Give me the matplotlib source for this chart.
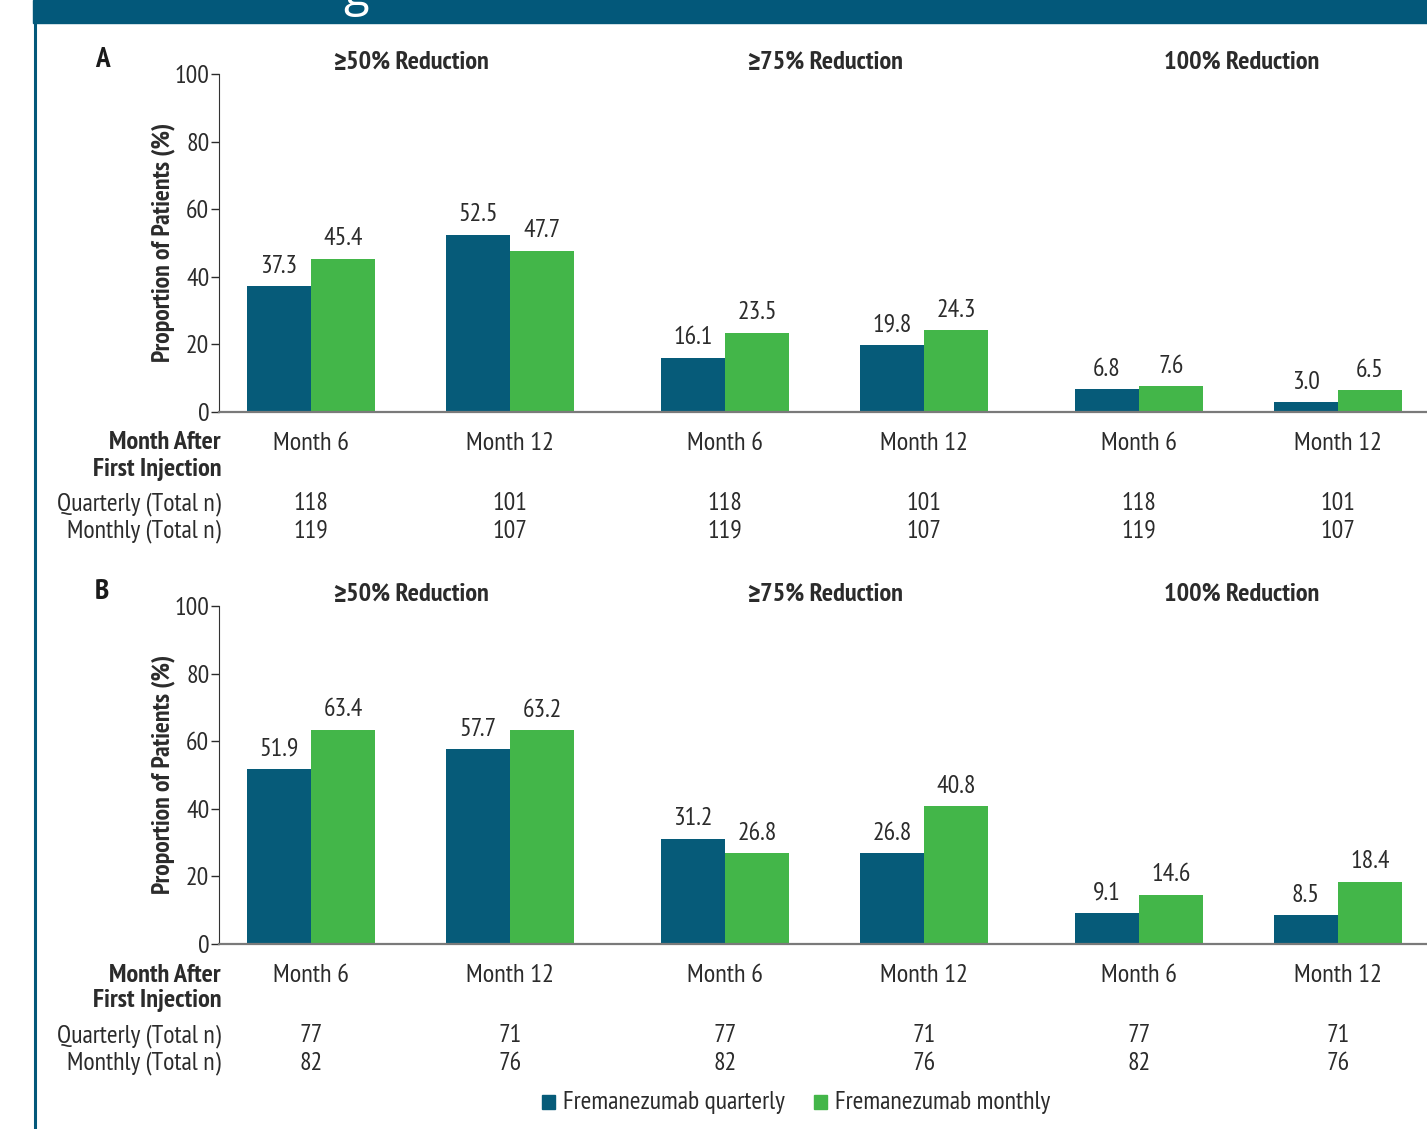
import matplotlib
matplotlib.use("Agg")
import matplotlib.pyplot as plt
from matplotlib.patches import Rectangle
from matplotlib.lines import Line2D

plt.rcParams['font.family'] = ['PT Sans Narrow', 'Roboto Condensed', 'Fira Sans Condensed',
                               'Asap Condensed', 'DejaVu Sans']
SYMBOL_FONT = ['Fira Sans Condensed', 'Roboto Condensed', 'DejaVu Sans']

# ---- data ----
months = ["Month 6", "Month 12", "Month 6", "Month 12", "Month 6", "Month 12"]
section_signs = ["\u2265", "\u2265", ""]
sections = ["50% Reduction", "75% Reduction", "100% Reduction"]

a_quarterly = [37.3, 52.5, 16.1, 19.8, 6.8, 3.0]
a_monthly = [45.4, 47.7, 23.5, 24.3, 7.6, 6.5]
a_n_quarterly = [118, 101, 118, 101, 118, 101]
a_n_monthly = [119, 107, 119, 107, 119, 107]

b_quarterly = [51.9, 57.7, 31.2, 26.8, 9.1, 8.5]
b_monthly = [63.4, 63.2, 26.8, 40.8, 14.6, 18.4]
b_n_quarterly = [77, 71, 77, 71, 77, 71]
b_n_monthly = [82, 76, 82, 76, 82, 76]

series_names = ["Fremanezumab quarterly", "Fremanezumab monthly"]

TEAL = "#065b79"
GREEN = "#43b649"
BANNER = "#03587a"
TXT = "#2b2b2b"
FS = 18.5

W, H = 1427, 1129
fig = plt.figure(figsize=(W / 100, H / 100), dpi=100)

def fx(px):
    return px / W

def fy(py):
    return 1 - py / H

# header strip and left rule
fig.patches.append(Rectangle((fx(33), fy(23)), 1, 23 / H, transform=fig.transFigure,
                             color=BANNER, zorder=0))
fig.add_artist(Line2D([fx(34.5), fx(34.5)], [0, 1], transform=fig.transFigure,
                      color=BANNER, lw=2.2))
fig.text(fx(343), fy(6), "g", color="white", fontsize=34, ha="left", va="baseline",
         family=["Open Sans", "DejaVu Sans"])

# group centres: 1 unit = gap between months, sections spaced a bit wider
pos = [0, 1, 2.08, 3.08, 4.16, 5.16]
bw = 0.3216
xlim = (-0.462, 5.608)
px_unit = (1427 - 219) / (xlim[1] - xlim[0])


def panel(letter, top_px, zero_px, quarterly, monthly, nq, nm):
    h = zero_px - top_px
    ax = fig.add_axes([fx(219), fy(zero_px), 1 - fx(219), h / H])
    ax.bar([p - bw / 2 for p in pos], quarterly, bw, color=TEAL, zorder=2)
    ax.bar([p + bw / 2 for p in pos], monthly, bw, color=GREEN, zorder=2)
    for p, q, m in zip(pos, quarterly, monthly):
        ax.annotate(f"{q:.1f}", (p - bw / 2, q), xytext=(0, 6), textcoords="offset points",
                    ha="center", va="bottom", fontsize=FS, color=TXT)
        ax.annotate(f"{m:.1f}", (p + bw / 2, m), xytext=(0, 6), textcoords="offset points",
                    ha="center", va="bottom", fontsize=FS, color=TXT)
    ax.set_xlim(*xlim)
    ax.set_ylim(0, 100)
    ax.set_yticks(range(0, 101, 20))
    ax.tick_params(axis="y", length=6, width=1, pad=1, labelsize=FS, colors=TXT)
    ax.set_xticks([])
    for s in ("top", "right"):
        ax.spines[s].set_visible(False)
    ax.spines["left"].set_color("#333333")
    ax.spines["bottom"].set_color("#7a7a7a")
    ax.spines["bottom"].set_linewidth(1.6)
    ax.patch.set_alpha(0)

    dy = top_px - 74
    fig.text(fx(102), fy(60 + dy), letter, fontsize=21, fontweight="bold",
             ha="center", va="center", color="#1a1a1a")
    fig.text(fx(163), fy(242 + dy), "Proportion of Patients (%)", rotation=90,
             fontsize=FS, fontweight="bold", ha="center", va="center", color=TXT)
    tr = ax.get_xaxis_transform()
    for k, (sign, name) in enumerate(zip(section_signs, sections)):
        cx = (pos[2 * k] + pos[2 * k + 1]) / 2 + (7 if sign else 3) / px_unit
        t = ax.text(cx, 1 + 12 / h, name, transform=tr, fontsize=FS + 0.5,
                    fontweight="bold", ha="center", va="center", color=TXT)
        if sign:
            # the sign sits just left of the title text
            ax.annotate(sign, xy=(0, 0.5), xycoords=t, xytext=(-0.5, 0),
                        textcoords="offset points", ha="right", va="center",
                        fontsize=FS + 0.5, fontweight="bold", color=TXT, family=SYMBOL_FONT)

    # rows under the axis
    fig.text(fx(221), fy(443 + dy), "Month After", fontsize=FS + 0.5, fontweight="bold",
             ha="right", va="center", color=TXT)
    fig.text(fx(221), fy(469 + dy), "First Injection", fontsize=FS + 0.5, fontweight="bold",
             ha="right", va="center", color=TXT)
    fig.text(fx(221), fy(504 + dy), "Quarterly (Total n)", fontsize=FS,
             ha="right", va="center", color=TXT)
    fig.text(fx(221), fy(531 + dy), "Monthly (Total n)", fontsize=FS,
             ha="right", va="center", color=TXT)
    for p, lab, a, b in zip(pos, months, nq, nm):
        ax.text(p, -(443 + dy - zero_px) / h, lab, transform=tr, fontsize=FS + 0.5,
                ha="center", va="center", color=TXT)
        ax.text(p, -(504 + dy - zero_px) / h, str(a), transform=tr, fontsize=FS,
                ha="center", va="center", color=TXT)
        ax.text(p, -(531 + dy - zero_px) / h, str(b), transform=tr, fontsize=FS,
                ha="center", va="center", color=TXT)
    return ax


panel("A", 74, 412, a_quarterly, a_monthly, a_n_quarterly, a_n_monthly)
panel("B", 606, 944, b_quarterly, b_monthly, b_n_quarterly, b_n_monthly)

# legend
for xs, name, col in [(548, series_names[0], TEAL), (820, series_names[1], GREEN)]:
    fig.patches.append(Rectangle((fx(xs - 6.5), fy(1109)), 13 / W, 14 / H,
                                 transform=fig.transFigure, color=col))
    fig.text(fx(xs + 15), fy(1102), name, fontsize=FS, ha="left", va="center", color=TXT)

fig.savefig("out.png", dpi=100)
